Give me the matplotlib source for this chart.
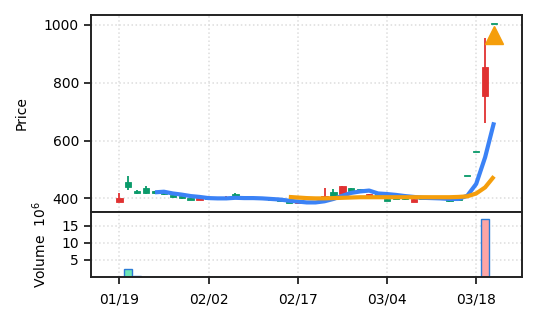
import numpy as np
import matplotlib
matplotlib.use("Agg")
import matplotlib.pyplot as plt

# daily candles (index 0 = 01/19)
opens = [389, 458, 427, 436, 425, 420, 413, 407, 402, 395,
         401, 397, 400, 416, 405, 399, 401, 399, 396, 390,
         384, 388, 385, 395, 423, 415, 437, 432, 409, 419,
         398, 401, 399, 389, 400, 399, 401, 394, 396, 476,
         559, 754, 1002]
highs = [419, 479, 430, 444, 427, 422, 414, 408, 403, 401,
         402, 400, 407, 417, 406, 403, 402, 400, 397, 391,
         389, 389, 391, 437, 432, 444, 437, 433, 416, 420,
         399, 402, 400, 398, 401, 400, 402, 395, 397, 476,
         559, 956, 1002]
lows = [386, 430, 414, 414, 416, 413, 403, 399, 394, 394,
        396, 396, 399, 407, 399, 398, 397, 395, 391, 383,
        382, 384, 384, 394, 405, 414, 419, 421, 408, 411,
        391, 397, 396, 387, 398, 397, 398, 389, 394, 476,
        559, 660, 1002]
closes = [401, 440, 419, 419, 418, 415, 404, 400, 395, 400,
          397, 399, 406, 408, 400, 402, 398, 396, 392, 384,
          388, 385, 390, 407, 407, 443, 425, 423, 415, 412,
          392, 398, 398, 397, 399, 398, 399, 390, 395, 476,
          559, 855, 1002]
volumes = [0.03e6, 2.4e6, 0.15e6, 0.03e6, 0.02e6, 0.02e6, 0.02e6, 0.02e6, 0.02e6, 0.02e6,
           0.02e6, 0.02e6, 0.02e6, 0.03e6, 0.02e6, 0.02e6, 0.02e6, 0.02e6, 0.02e6, 0.02e6,
           0.02e6, 0.02e6, 0.02e6, 0.12e6, 0.03e6, 0.03e6, 0.02e6, 0.02e6, 0.02e6, 0.02e6,
           0.02e6, 0.02e6, 0.02e6, 0.02e6, 0.02e6, 0.02e6, 0.02e6, 0.02e6, 0.02e6, 0.03e6,
           0.03e6, 17.1e6, 0.03e6]

# moving averages as drawn (nan before they start)
ma5 = [np.nan] * 4 + [421, 423, 417, 413, 408, 405, 401, 400, 400, 402,
                      401, 401, 400, 398, 396, 392, 389, 386, 386, 390,
                      398, 409, 419, 424, 427, 417, 415, 412, 408, 405,
                      402, 401, 400, 398, 398, 409, 450, 542, 663]
ma20 = [np.nan] * 19 + [405, 403, 401, 400, 400, 401, 402, 403, 404, 404,
                        404, 404, 404, 404, 404, 404, 404, 404, 404, 405,
                        407, 417, 438, 476]

signal_idx = [42]
signal_price = [965]

tick_pos = [0, 10, 20, 30, 40]
tick_labels = ["01/19", "02/02", "02/17", "03/04", "03/18"]

up_col = "#e03131"
down_col = "#0a9a6a"

plt.rcParams["font.family"] = ["DejaVu Sans"]
plt.rcParams["font.size"] = 10

fig = plt.figure(figsize=(5.37, 3.22), dpi=100)
ax1 = fig.add_axes([0.169, 0.3426, 0.8025, 0.6108])
ax2 = fig.add_axes([0.169, 0.1398, 0.8025, 0.2028], sharex=ax1)

x = np.arange(len(closes))
o = np.array(opens, dtype=float)
c = np.array(closes, dtype=float)
cols = [up_col if cc > oo else down_col for oo, cc in zip(o, c)]

# wicks + bodies
ax1.vlines(x, lows, highs, color=cols, linewidth=1.3, zorder=2)
body_h = np.maximum(np.abs(c - o), 4)
ax1.bar(x, body_h, bottom=np.minimum(o, c), width=0.72, color=cols,
        edgecolor=cols, linewidth=0.6, zorder=3)

ax1.plot(x, ma5, color="#3b82f6", linewidth=3, zorder=4, solid_capstyle="butt")
ax1.plot(x, ma20, color="#f59e0b", linewidth=3, zorder=5, solid_capstyle="butt")
ax1.plot(signal_idx, signal_price, marker="^", markersize=12.5, color="#f59e0b",
         linestyle="none", zorder=6)

ax1.set_ylim(354, 1034)
ax1.set_yticks([400, 600, 800, 1000])
ax1.set_ylabel("Price", labelpad=11)
ax1.tick_params(axis="x", bottom=False, labelbottom=False)

# volume
vcols = ["#fca5a5" if cc > oo else "#6ee7b7" for oo, cc in zip(o, c)]
ax2.bar(x, np.array(volumes) / 1e6, width=0.85, color=vcols, edgecolor="#2b7bd6",
        linewidth=1, zorder=2)
ax2.set_ylim(0, 19.1)
ax2.set_yticks([5, 10, 15])
ax2.set_ylabel(r"Volume  $10^{6}$", labelpad=9)
ax2.set_xticks(tick_pos)
ax2.set_xticklabels(tick_labels)
ax2.set_xlim(-3.2, 45.1)

for ax in (ax1, ax2):
    ax.grid(True, color="#dddddd", linestyle=":", linewidth=1.1)
    ax.set_axisbelow(True)
    for sp in ax.spines.values():
        sp.set_linewidth(1.4)
        sp.set_color("#222222")
    ax.tick_params(length=5, width=1.3, color="#222222")
ax2.tick_params(axis="x", pad=6)

fig.savefig("out.png", dpi=100)
